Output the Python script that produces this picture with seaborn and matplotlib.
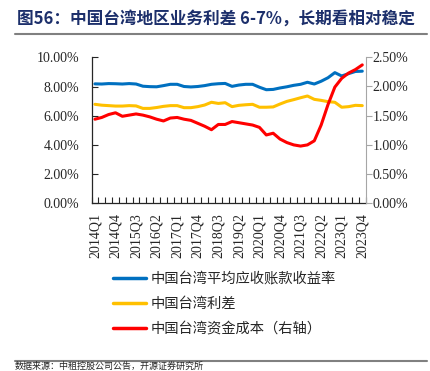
import numpy as np
import pandas as pd
import matplotlib
matplotlib.use("Agg")
import matplotlib.pyplot as plt
import seaborn as sns
from matplotlib.ticker import MultipleLocator, FuncFormatter
from matplotlib.lines import Line2D

# quarters 2014Q1 .. 2023Q4
quarters = [f"{y}Q{q}" for y in range(2014, 2024) for q in range(1, 5)]

# 中国台湾平均应收账款收益率 (left axis, %)
yield_rate = [8.18, 8.17, 8.20, 8.19, 8.17, 8.20, 8.17, 8.02, 7.99, 7.98,
              8.06, 8.15, 8.15, 8.00, 7.97, 8.00, 8.06, 8.15, 8.19, 8.21,
              8.01, 8.10, 8.15, 8.15, 7.95, 7.78, 7.80, 7.90, 7.98, 8.08,
              8.15, 8.29, 8.17, 8.36, 8.60, 8.95, 8.72, 8.88, 9.03, 9.05]
# 中国台湾利差 (left axis, %)
spread = [6.78, 6.72, 6.69, 6.66, 6.66, 6.69, 6.67, 6.50, 6.50, 6.56,
          6.64, 6.69, 6.69, 6.55, 6.55, 6.62, 6.73, 6.92, 6.84, 6.89,
          6.62, 6.71, 6.75, 6.78, 6.58, 6.58, 6.60, 6.80, 6.98, 7.10,
          7.23, 7.35, 7.12, 7.05, 6.96, 6.92, 6.58, 6.62, 6.71, 6.69]
# 中国台湾资金成本 (right axis, %)
fund_cost = [1.44, 1.47, 1.52, 1.55, 1.49, 1.51, 1.53, 1.51, 1.48, 1.44,
             1.41, 1.46, 1.47, 1.44, 1.42, 1.37, 1.32, 1.26, 1.35, 1.35,
             1.40, 1.38, 1.36, 1.34, 1.30, 1.17, 1.20, 1.10, 1.04, 1.00,
             0.98, 1.00, 1.07, 1.34, 1.69, 1.99, 2.14, 2.23, 2.29, 2.37]

labels = ["中国台湾平均应收账款收益率", "中国台湾利差", "中国台湾资金成本（右轴）"]
colors = ["#0070C0", "#FFC000", "#FF0000"]

df = pd.DataFrame({"idx": np.arange(len(quarters)), "yield": yield_rate,
                   "spread": spread, "cost": fund_cost})

sns.set_style("ticks")
plt.rcParams["font.family"] = ["Liberation Serif", "DejaVu Sans"]
cjk = ["Noto Sans CJK SC", "DejaVu Sans"]

W, H = 430, 371
fig = plt.figure(figsize=(W / 100, H / 100), dpi=100)
x0, x1, y0, y1 = 91.5, 365.7, 57.3, 203.3
ax = fig.add_axes([x0 / W, 1 - y1 / H, (x1 - x0) / W, (y1 - y0) / H])

sns.lineplot(data=df, x="idx", y="yield", ax=ax, color=colors[0], lw=2.2)
sns.lineplot(data=df, x="idx", y="spread", ax=ax, color=colors[1], lw=2.2)
ax2 = ax.twinx()
sns.lineplot(data=df, x="idx", y="cost", ax=ax2, color=colors[2], lw=2.2)

ax.set_xlim(-0.5, len(quarters) - 0.5)
ax.set_ylim(0, 10)
ax2.set_ylim(0, 2.5)
ax.yaxis.set_major_locator(MultipleLocator(2))
ax2.yaxis.set_major_locator(MultipleLocator(0.5))
ax.yaxis.set_major_formatter(FuncFormatter(lambda v, p: f"{v:.2f}%"))
ax2.yaxis.set_major_formatter(FuncFormatter(lambda v, p: f"{v:.2f}%"))
ax.set_xlabel("")
ax.set_ylabel("")
ax2.set_ylabel("")

ax.set_xticks(np.arange(0, len(quarters), 3))
ax.set_xticklabels(quarters[::3], rotation=90)
ax.set_xticks(np.arange(-0.5, len(quarters), 1), minor=True)
ax.tick_params(axis="x", which="major", length=0, pad=7, labelsize=10)
ax.tick_params(axis="x", which="minor", direction="in", length=4, width=0.8)
ax.tick_params(axis="y", direction="in", length=4, width=0.8, pad=9, labelsize=10)
ax2.tick_params(axis="y", direction="out", length=4, width=0.8, pad=1,
                labelsize=10, color="#a6a6a6")

for s in ["top", "right"]:
    ax.spines[s].set_visible(False)
for s in ["top", "left", "bottom"]:
    ax2.spines[s].set_visible(False)
ax2.spines["right"].set_color("#a6a6a6")
ax.spines["left"].set_linewidth(0.9)
ax.spines["bottom"].set_linewidth(0.9)

handles = [Line2D([], [], color=c, lw=2.5) for c in colors]
fig.legend(handles, labels, loc="upper left",
           bbox_to_anchor=(113 / W, 1 - 272 / H), frameon=False,
           borderpad=0, borderaxespad=0, handlelength=2.3, handletextpad=0.35,
           labelspacing=0.78, prop={"family": cjk, "size": 10.3},
           labelcolor="#262626")

fig.text(17 / W, 1 - 19 / H, "图56：中国台湾地区业务利差 6-7%，长期看相对稳定",
         family=cjk, fontsize=12, weight="bold", color="#1c2f6b", va="center")
fig.add_artist(Line2D([15 / W, 427 / W], [1 - 33.5 / H] * 2, color="#808080", lw=1.5))
fig.add_artist(Line2D([15 / W, 427 / W], [1 - 360.7 / H] * 2, color="#808080", lw=1.5))
fig.text(15 / W, 1 - 369 / H, "数据来源：中租控股公司公告，开源证券研究所",
         family=cjk, fontsize=6.5, color="#262626", va="baseline")

fig.savefig("out.png", dpi=100)
